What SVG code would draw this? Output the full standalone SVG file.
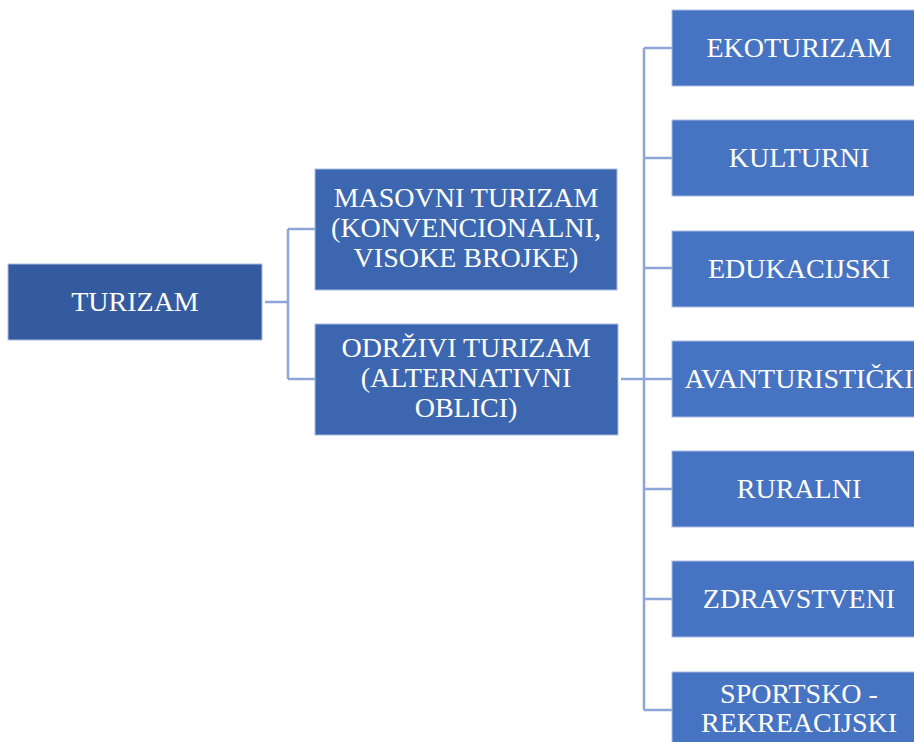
<svg xmlns="http://www.w3.org/2000/svg" width="914" height="742" viewBox="0 0 914 742">
<style>
.box{stroke:#a9bbe3;stroke-width:1}
.root{fill:#345b9f}
.mid{fill:#3d66b0}
.leaf{fill:#4674c2}
.t{font-family:'Liberation Serif','Times New Roman','DejaVu Serif',serif;font-size:28px;fill:#ffffff;text-anchor:middle}
.c{fill:none;stroke:#8fa4d8;stroke-width:2.5}
</style>
<rect width="914" height="742" fill="#ffffff"/>
<g id="connectors">
<path class="c" d="M265 302H288M288 229V379M288 229H315M288 379H315"/>
<path class="c" d="M621 379H644M644 48V710M644 48H672M644 158H672M644 268H672M644 379H672M644 489H672M644 599H672M644 710H672"/>
</g>
<g id="turizam"><rect class="box root" x="8" y="264" width="254" height="76"/><text class="t" font-family="Liberation Serif, serif" x="135" y="311">TURIZAM</text></g>
<g id="masovni"><rect class="box mid" x="315" y="169" width="302" height="121"/><text class="t" x="466" y="207">MASOVNI TURIZAM</text><text class="t" x="466" y="237">(KONVENCIONALNI,</text><text class="t" x="466" y="267">VISOKE BROJKE)</text></g>
<g id="odrzivi"><rect class="box mid" x="315" y="324" width="303" height="111"/><text class="t" x="466" y="357">ODRŽIVI TURIZAM</text><text class="t" x="466" y="387">(ALTERNATIVNI</text><text class="t" x="466" y="417">OBLICI)</text></g>
<g id="ekoturizam"><rect class="box leaf" x="672" y="10" width="254" height="76"/><text class="t" x="799" y="57">EKOTURIZAM</text></g>
<g id="kulturni"><rect class="box leaf" x="672" y="120" width="254" height="76"/><text class="t" x="799" y="167">KULTURNI</text></g>
<g id="edukacijski"><rect class="box leaf" x="672" y="231" width="254" height="76"/><text class="t" x="799" y="278">EDUKACIJSKI</text></g>
<g id="avanturisticki"><rect class="box leaf" x="672" y="341" width="254" height="76"/><text class="t" x="799" y="388">AVANTURISTIČKI</text></g>
<g id="ruralni"><rect class="box leaf" x="672" y="451" width="254" height="76"/><text class="t" x="799" y="498">RURALNI</text></g>
<g id="zdravstveni"><rect class="box leaf" x="672" y="561" width="254" height="76"/><text class="t" x="799" y="608">ZDRAVSTVENI</text></g>
<g id="sportsko"><rect class="box leaf" x="672" y="672" width="254" height="76"/><text class="t" x="799" y="703">SPORTSKO -</text><text class="t" x="799" y="732">REKREACIJSKI</text></g>
</svg>
